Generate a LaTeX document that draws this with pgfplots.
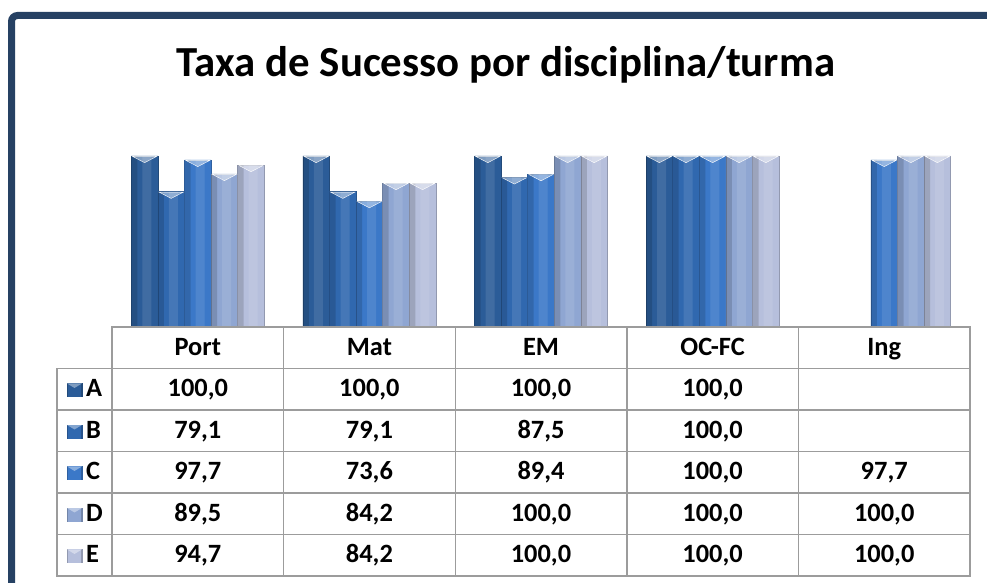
\documentclass[border=0pt]{standalone}
\usepackage{fontspec}
\setmainfont{Carlito}
\usepackage{pgfplots}
\pgfplotsset{compat=1.18}

\definecolor{frame}{HTML}{264163}
\definecolor{grid}{HTML}{9C9C9C}
\definecolor{cA}{HTML}{2B5C98}
\definecolor{cB}{HTML}{3068AF}
\definecolor{cC}{HTML}{3B78C8}
\definecolor{cD}{HTML}{8FA6D2}
\definecolor{cE}{HTML}{B6BFDC}

\pgfplotsset{
  cyl/.style 2 args={ybar, bar width=26.6bp, bar shift=#2, fill=#1, draw=#1!80!black, line width=0.5bp},
  edge/.style={ybar, bar width=6bp, bar shift=#1, draw=none, fill=black, fill opacity=0.14, forget plot},
  shine/.style={ybar, bar width=9bp, bar shift=#1, draw=none, fill=white, fill opacity=0.10, forget plot},
  cap/.style={only marks, white, mark=triangle*, mark size=14bp, xshift=#1, yshift=-2.5bp,
    mark options={rotate=180, yscale=0.3, draw=none, fill=white, fill opacity=0.4}, forget plot},
}

% one row of the data table: baseline, then the five cells
\newcommand{\row}[6]{%
  \node[anchor=base] at (197.8,#1) {#2};
  \node[anchor=base] at (369.4,#1) {#3};
  \node[anchor=base] at (541.0,#1) {#4};
  \node[anchor=base] at (712.6,#1) {#5};
  \node[anchor=base] at (884.2,#1) {#6};}

\begin{document}
\begin{tikzpicture}[x=1bp,y=1bp]
\useasboundingbox (0,0) rectangle (987,583);
% frame
\draw[frame, line width=7bp, rounded corners=6bp] (11.5,-20) -- (11.5,567.5) -- (1010,567.5);

% title
\node[anchor=base, font=\fontsize{43}{50}\selectfont\bfseries] at (506,506)
  {Taxa de Sucesso por disciplina/turma};

\begin{axis}[
  at={(112bp,256bp)}, anchor=south west,
  scale only axis, width=858bp, height=171bp,
  xmin=-0.5, xmax=4.5, ymin=0, ymax=100,
  axis lines=none, clip=false,
]
\addplot[cyl={cA}{-53.2bp}] coordinates {(0,100) (1,100) (2,100) (3,100)};
\addplot[cyl={cB}{-26.6bp}] coordinates {(0,79.1) (1,79.1) (2,87.5) (3,100)};
\addplot[cyl={cC}{0bp}]     coordinates {(0,97.7) (1,73.6) (2,89.4) (3,100) (4,97.7)};
\addplot[cyl={cD}{26.6bp}]  coordinates {(0,89.5) (1,84.2) (2,100) (3,100) (4,100)};
\addplot[cyl={cE}{53.2bp}]  coordinates {(0,94.7) (1,84.2) (2,100) (3,100) (4,100)};
% darker left edge and soft highlight of each bar
\addplot[edge=-63.5bp] coordinates {(0,100) (1,100) (2,100) (3,100)};
\addplot[edge=-36.9bp] coordinates {(0,79.1) (1,79.1) (2,87.5) (3,100)};
\addplot[edge=-10.3bp] coordinates {(0,97.7) (1,73.6) (2,89.4) (3,100) (4,97.7)};
\addplot[edge=16.3bp]  coordinates {(0,89.5) (1,84.2) (2,100) (3,100) (4,100)};
\addplot[edge=42.9bp]  coordinates {(0,94.7) (1,84.2) (2,100) (3,100) (4,100)};
\addplot[shine=-51bp]  coordinates {(0,100) (1,100) (2,100) (3,100)};
\addplot[shine=-24.4bp] coordinates {(0,79.1) (1,79.1) (2,87.5) (3,100)};
\addplot[shine=2.2bp]  coordinates {(0,97.7) (1,73.6) (2,89.4) (3,100) (4,97.7)};
\addplot[shine=28.8bp] coordinates {(0,89.5) (1,84.2) (2,100) (3,100) (4,100)};
\addplot[shine=55.4bp] coordinates {(0,94.7) (1,84.2) (2,100) (3,100) (4,100)};
% bevelled tops
\addplot[cap=-53.2bp] coordinates {(0,100) (1,100) (2,100) (3,100)};
\addplot[cap=-26.6bp] coordinates {(0,79.1) (1,79.1) (2,87.5) (3,100)};
\addplot[cap=0bp]     coordinates {(0,97.7) (1,73.6) (2,89.4) (3,100) (4,97.7)};
\addplot[cap=26.6bp]  coordinates {(0,89.5) (1,84.2) (2,100) (3,100) (4,100)};
\addplot[cap=53.2bp]  coordinates {(0,94.7) (1,84.2) (2,100) (3,100) (4,100)};
\end{axis}

% data table
\begin{scope}[grid, line width=1.4bp]
  \draw (112,256) rectangle (970,7);
  \draw (57,214.5) rectangle (112,7);
  \foreach \y in {214.5,173,131.5,90,48.5} \draw (57,\y) -- (970,\y);
  \foreach \x in {283.6,455.2,626.8,798.4} \draw (\x,256) -- (\x,7);
\end{scope}

\begin{scope}[font=\fontsize{26.5}{30}\selectfont\bfseries]
  \row{227.7}{Port}{Mat}{EM}{OC-FC}{Ing}
  \foreach \l/\c/\y in {A/cA/186,B/cB/144.5,C/cC/103,D/cD/61.5,E/cE/20} {
    \fill[\c!80!black] (66.5,\y-0.5) rectangle (82.5,\y+13.5);
    \fill[\c] (68,\y-0.5) rectangle (81,\y+13.5);
    \fill[white, opacity=0.4] (67,\y+13.5) -- (82,\y+13.5) -- (74.5,\y+9) -- cycle;
    \node[anchor=base west, inner sep=0] at (86,\y) {\l};
  }
  \row{186}{100,0}{100,0}{100,0}{100,0}{}
  \row{144.5}{79,1}{79,1}{87,5}{100,0}{}
  \row{103}{97,7}{73,6}{89,4}{100,0}{97,7}
  \row{61.5}{89,5}{84,2}{100,0}{100,0}{100,0}
  \row{20}{94,7}{84,2}{100,0}{100,0}{100,0}
\end{scope}
\end{tikzpicture}
\end{document}
